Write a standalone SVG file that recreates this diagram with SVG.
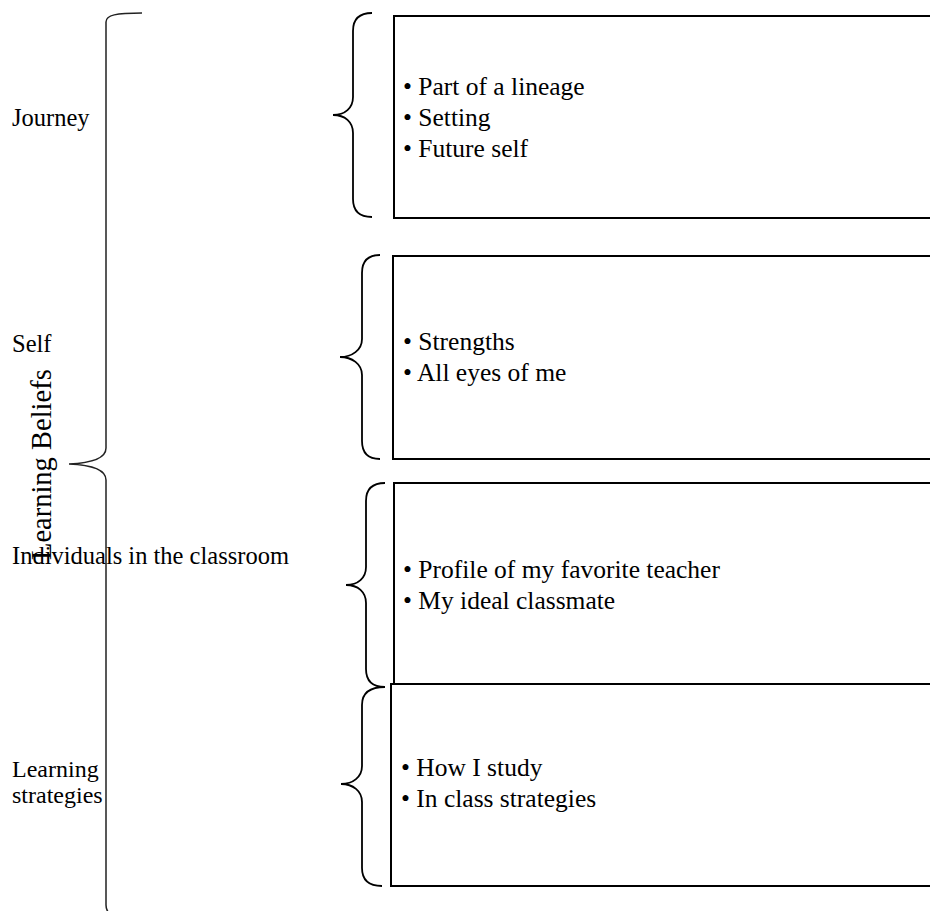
<svg xmlns="http://www.w3.org/2000/svg" width="930" height="911" viewBox="0 0 930 911">
<style>
.box{fill:#fff;stroke:#000;stroke-width:2}
.brace{fill:none;stroke:#000;stroke-width:1.8}
.big{fill:none;stroke:#222;stroke-width:1.5}
.lbl{font-family:"Liberation Serif","Times New Roman",serif;font-size:24.5px;fill:#000}
.bul{font-family:"Liberation Serif","Times New Roman",serif;font-size:25.5px;fill:#000}
</style>
<rect x="0" y="0" width="930" height="911" fill="#fff"/>
<g id="connectors">
<path class="big" d="M142 13 C116 13 106 15 106 22 L106 448 C106 458 92 463 69 464 C92 465 106 470 106 480 L106 905 C106 912 110 915 116 916"/>
<path class="brace" d="M372 13 Q353 13 353 31 L353 97 C353 108 345 115 333 115 C345 115 353 122 353 133 L353 199 Q353 217 372 217"/>
<path class="brace" d="M380 255 Q362 255 362 273 L362 339 C362 350 352 357 340 357 C352 357 362 364 362 375 L362 441 Q362 459 380 459"/>
<path class="brace" d="M385 483 Q366 483 366 501 L366 567 C366 578 358 585 346 585 C358 585 366 592 366 603 L366 669 Q366 687 385 687"/>
<path class="brace" d="M385 687 Q362 687 362 705 L362 766 C362 777 353 784 341 784 C353 784 362 791 362 802 L362 868 Q362 886 382 886"/>
</g>
<g id="title">
<text class="lbl" style="font-size:28.5px" transform="translate(51,560) rotate(-90)">Learning Beliefs</text>
</g>
<g id="label-journey"><text class="lbl" x="12" y="126">Journey</text></g>
<g id="label-self"><text class="lbl" x="12" y="352">Self</text></g>
<g id="label-individuals"><text class="lbl" x="12" y="564">Individuals in the classroom</text></g>
<g id="label-strategies"><text class="lbl" style="font-size:24px" x="12" y="777">Learning</text><text class="lbl" style="font-size:24px" x="12" y="803">strategies</text></g>
<g id="box-journey">
<rect class="box" x="394" y="16" width="560" height="202"/>
<text class="bul" x="403" y="95">• Part of a lineage</text>
<text class="bul" x="403" y="126">• Setting</text>
<text class="bul" x="403" y="157">• Future self</text>
</g>
<g id="box-self">
<rect class="box" x="393" y="256" width="560" height="203"/>
<text class="bul" x="403" y="350">• Strengths</text>
<text class="bul" x="403" y="381">• All eyes of me</text>
</g>
<g id="box-individuals">
<rect class="box" x="394" y="483" width="560" height="204"/>
<text class="bul" x="403" y="578">• Profile of my favorite teacher</text>
<text class="bul" x="403" y="609">• My ideal classmate</text>
</g>
<g id="box-strategies">
<rect class="box" x="391" y="684" width="560" height="202"/>
<text class="bul" x="401" y="776">• How I study</text>
<text class="bul" x="401" y="807">• In class strategies</text>
</g>
</svg>
